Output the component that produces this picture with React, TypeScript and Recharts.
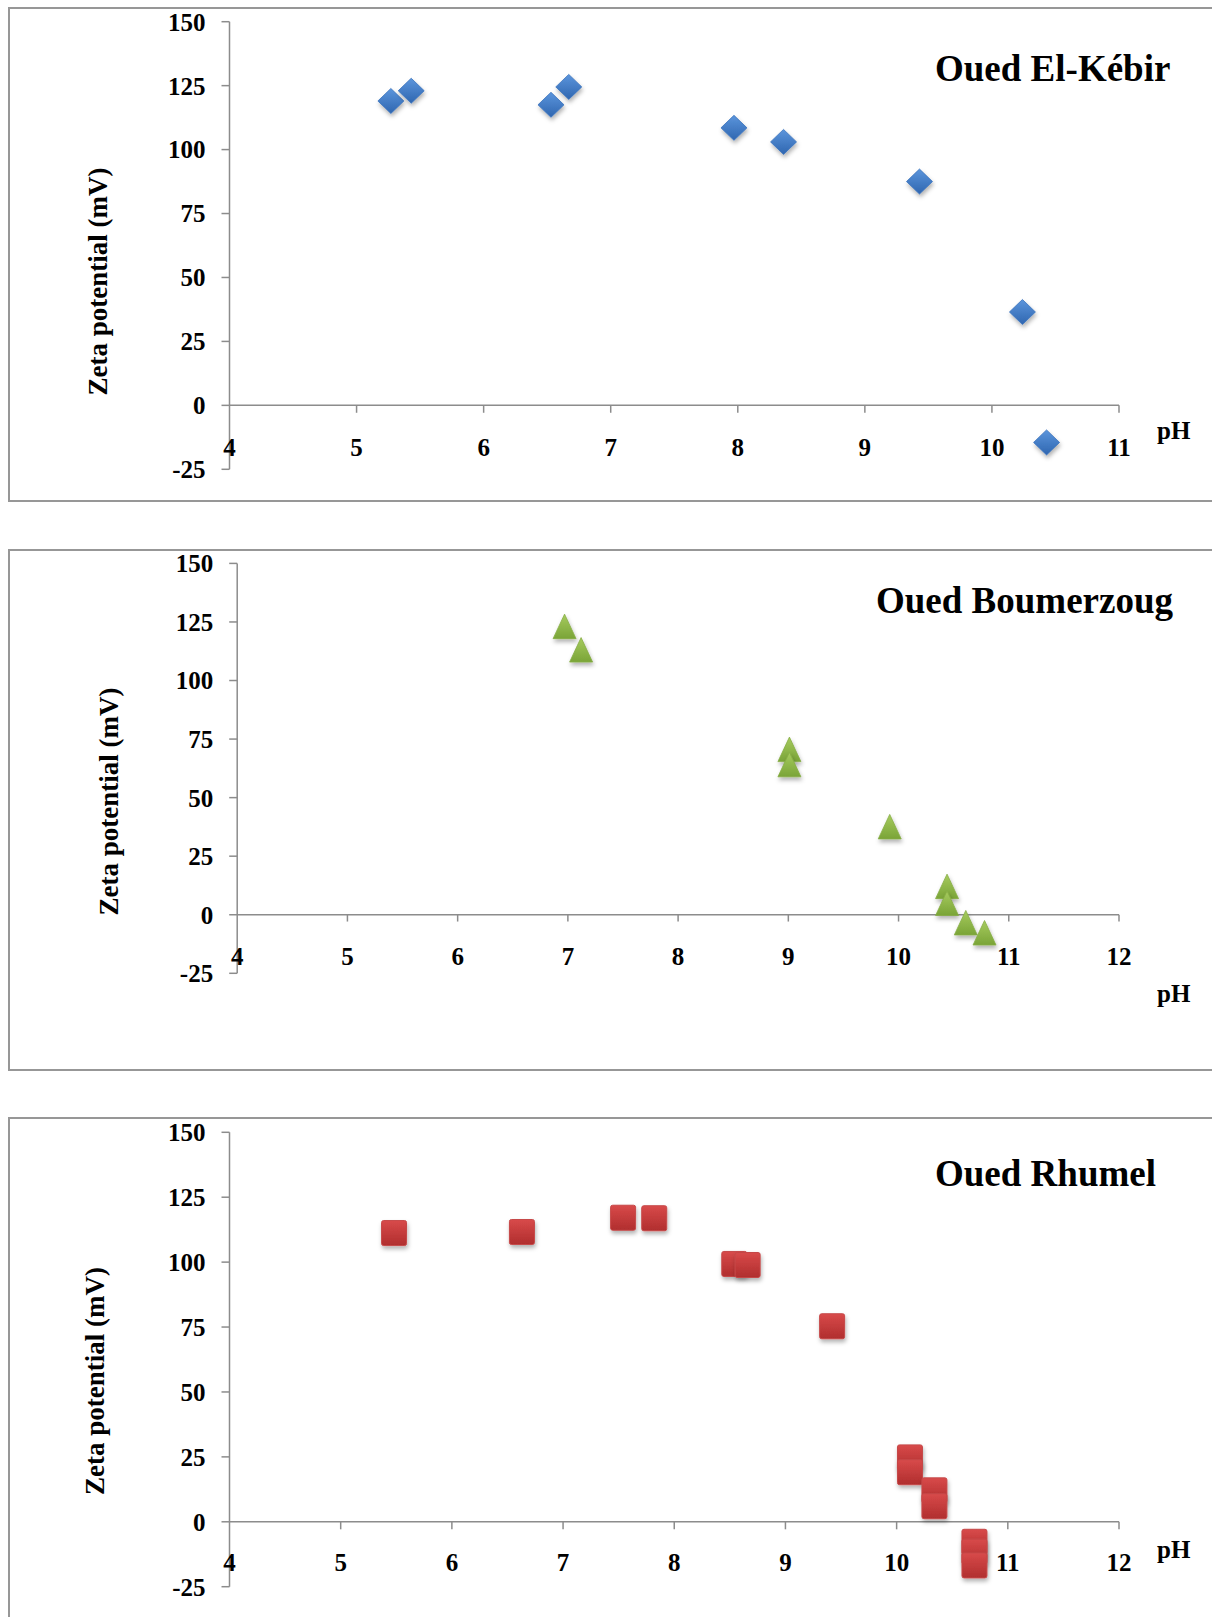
import React from "react";
import {
  ScatterChart,
  Scatter,
  XAxis,
  YAxis,
  ReferenceLine,
} from "recharts";

// Oued El-Kébir (diamonds)
const kebirPH = [5.27, 5.43, 6.53, 6.67, 7.97, 8.36, 9.43, 10.24, 10.43];
const kebirZeta = [119, 123, 117.5, 124.5, 108.5, 103, 87.5, 36.5, -14.5];

// Oued Boumerzoug (triangles)
const boumPH = [6.97, 7.12, 9.01, 9.01, 9.92, 10.44, 10.44, 10.61, 10.78];
const boumZeta = [123, 113, 70.5, 64, 37.5, 12, 4.8, -3.5, -7.8];

// Oued Rhumel (squares)
const rhumelPH = [5.48, 6.63, 7.54, 7.82, 8.54, 8.66, 9.42, 10.12, 10.12, 10.34, 10.34, 10.7, 10.7, 10.7];
const rhumelZeta = [111.2, 111.6, 117.1, 116.9, 99.3, 98.9, 75.3, 24.8, 19.1, 12.1, 6, -7.7, -11.5, -16.8];

const yTicks = [-25, 0, 25, 50, 75, 100, 125, 150];
const xTicks11 = [4, 5, 6, 7, 8, 9, 10, 11];
const xTicks12 = [4, 5, 6, 7, 8, 9, 10, 11, 12];

const titles = ["Oued El-Kébir", "Oued Boumerzoug", "Oued Rhumel"];
const yLabel = "Zeta potential (mV)";

const serif = "'Liberation Serif', 'Times New Roman', serif";
const axisGray = "#8c8c8c";
const tickFont = 25;

const zip = (xs: number[], ys: number[]) => xs.map((x, i) => ({ ph: x, zeta: ys[i] }));

const Diamond = (p: any) => (
  <polygon
    points={`${p.cx},${p.cy - 12.5} ${p.cx + 13},${p.cy} ${p.cx},${p.cy + 12.5} ${p.cx - 13},${p.cy}`}
    fill="url(#gBlue)"
    stroke="#3a72bd"
    strokeWidth={0.8}
    filter="url(#shadow)"
  />
);

const Triangle = (p: any) => (
  <polygon
    points={`${p.cx},${p.cy - 12.5} ${p.cx + 11.5},${p.cy + 12} ${p.cx - 11.5},${p.cy + 12}`}
    fill="url(#gGreen)"
    stroke="#86ad45"
    strokeWidth={0.8}
    filter="url(#shadow)"
  />
);

const Square = (p: any) => (
  <rect
    x={p.cx - 12.5}
    y={p.cy - 12.5}
    width={25}
    height={25}
    rx={2}
    fill="url(#gRed)"
    stroke="#c64848"
    strokeWidth={1}
    filter="url(#shadow)"
  />
);

interface PanelProps {
  top: number;
  height: number;
  margin: { top: number; right: number; bottom: number; left: number };
  yAxisWidth: number;
  xMax: number;
  xTicks: number[];
  xLabelDy: number;
  labelPos: { x: number; y: number };
  data: { ph: number; zeta: number }[];
  shape: (p: any) => React.ReactElement;
}

function XTick(props: any) {
  const { x, y, payload, dyOff } = props;
  return (
    <text
      x={x}
      y={y + dyOff}
      textAnchor="middle"
      dominantBaseline="central"
      fontFamily={serif}
      fontWeight="bold"
      fontSize={tickFont}
      fill="#000"
    >
      {payload?.value}
    </text>
  );
}

function Panel(props: PanelProps) {
  const { top, height, margin, yAxisWidth, xMax, xTicks, xLabelDy, labelPos, data, shape } = props;
  return (
    <div style={{ position: "absolute", left: 0, top }}>
      <ScatterChart width={1212} height={height} margin={margin}>
        <XAxis
          type="number"
          dataKey="ph"
          domain={[4, xMax]}
          ticks={xTicks}
          height={30}
          axisLine={false}
          tickLine={false}
          tickSize={0}
          tickMargin={0}
          interval={0}
          tick={<XTick dyOff={xLabelDy} />}
        />
        <YAxis
          type="number"
          dataKey="zeta"
          domain={[-25, 150]}
          ticks={yTicks}
          interval={0}
          width={yAxisWidth}
          axisLine={{ stroke: axisGray, strokeWidth: 1.5 }}
          tickLine={{ stroke: axisGray, strokeWidth: 1.5 }}
          tickSize={8}
          tickMargin={16}
          tick={{ fontFamily: serif, fontWeight: "bold", fontSize: tickFont, fill: "#000" }}
          label={() => (
            <text
              x={labelPos.x}
              y={labelPos.y}
              transform={`rotate(-90 ${labelPos.x} ${labelPos.y})`}
              textAnchor="middle"
              dominantBaseline="central"
              fontFamily={serif}
              fontWeight="bold"
              fontSize={27}
              fill="#000"
            >
              {yLabel}
            </text>
          )}
        />
        <ReferenceLine y={0} stroke={axisGray} strokeWidth={1.5} />
        {xTicks.slice(1).map((t) => (
          <ReferenceLine
            key={t}
            segment={[
              { x: t, y: 0 },
              { x: t, y: -2.9 },
            ]}
            stroke={axisGray}
            strokeWidth={1.5}
          />
        ))}
        <Scatter data={data} shape={shape} isAnimationActive={false} />
      </ScatterChart>
    </div>
  );
}

const panelBorder = (top: number, height: number): React.CSSProperties => ({
  position: "absolute",
  left: 8,
  top,
  width: 1230,
  height,
  border: "2px solid #979797",
  boxSizing: "border-box",
});

const titleStyle = (left: number, top: number): React.CSSProperties => ({
  position: "absolute",
  left,
  top,
  fontFamily: serif,
  fontWeight: "bold",
  fontSize: 37,
  lineHeight: "37px",
  whiteSpace: "nowrap",
  color: "#000",
});

const phStyle = (top: number): React.CSSProperties => ({
  position: "absolute",
  left: 1157,
  top,
  fontFamily: serif,
  fontWeight: "bold",
  fontSize: 25,
  lineHeight: "25px",
  color: "#000",
});

export default function App() {
  return (
    <div
      style={{
        position: "absolute",
        left: 0,
        top: 0,
        width: 1212,
        height: 1617,
        overflow: "hidden",
        background: "#fff",
      }}
    >
      <svg width={0} height={0} style={{ position: "absolute" }}>
        <defs>
          <linearGradient id="gBlue" x1="0" y1="0" x2="0" y2="1">
            <stop offset="0%" stopColor="#5b95dc" />
            <stop offset="100%" stopColor="#2f66b0" />
          </linearGradient>
          <linearGradient id="gGreen" x1="0" y1="0" x2="0" y2="1">
            <stop offset="0%" stopColor="#a6cb5e" />
            <stop offset="100%" stopColor="#7aa437" />
          </linearGradient>
          <linearGradient id="gRed" x1="0" y1="0" x2="0" y2="1">
            <stop offset="0%" stopColor="#d84a4a" />
            <stop offset="100%" stopColor="#b02e2e" />
          </linearGradient>
          <filter id="shadow" x="-50%" y="-50%" width="200%" height="200%">
            <feDropShadow dx="1" dy="3" stdDeviation="2" floodColor="#000" floodOpacity="0.3" />
          </filter>
        </defs>
      </svg>

      <div style={panelBorder(7, 495)} />
      <div style={panelBorder(549, 522)} />
      <div style={panelBorder(1117, 540)} />

      <Panel
        top={0}
        height={520}
        margin={{ top: 21.7, right: 93, bottom: 20.7, left: 0 }}
        yAxisWidth={229.5}
        xMax={11}
        xTicks={xTicks11}
        xLabelDy={-22.3}
        labelPos={{ x: 98, y: 281.5 }}
        data={zip(kebirPH, kebirZeta)}
        shape={Diamond}
      />
      <Panel
        top={540}
        height={480}
        margin={{ top: 23.4, right: 93, bottom: 16.7, left: 0 }}
        yAxisWidth={237.2}
        xMax={12}
        xTicks={xTicks12}
        xLabelDy={-17.3}
        labelPos={{ x: 109, y: 261.5 }}
        data={zip(boumPH, boumZeta)}
        shape={Triangle}
      />
      <Panel
        top={1110}
        height={530}
        margin={{ top: 22.3, right: 93, bottom: 23.3, left: 0 }}
        yAxisWidth={229.5}
        xMax={12}
        xTicks={xTicks12}
        xLabelDy={-24}
        labelPos={{ x: 95, y: 271 }}
        data={zip(rhumelPH, rhumelZeta)}
        shape={Square}
      />

      <div style={titleStyle(935, 49.5)}>{titles[0]}</div>
      <div style={titleStyle(876, 582)}>{titles[1]}</div>
      <div style={titleStyle(935, 1155)}>{titles[2]}</div>

      <div style={phStyle(418)}>pH</div>
      <div style={phStyle(981)}>pH</div>
      <div style={phStyle(1537)}>pH</div>
    </div>
  );
}
